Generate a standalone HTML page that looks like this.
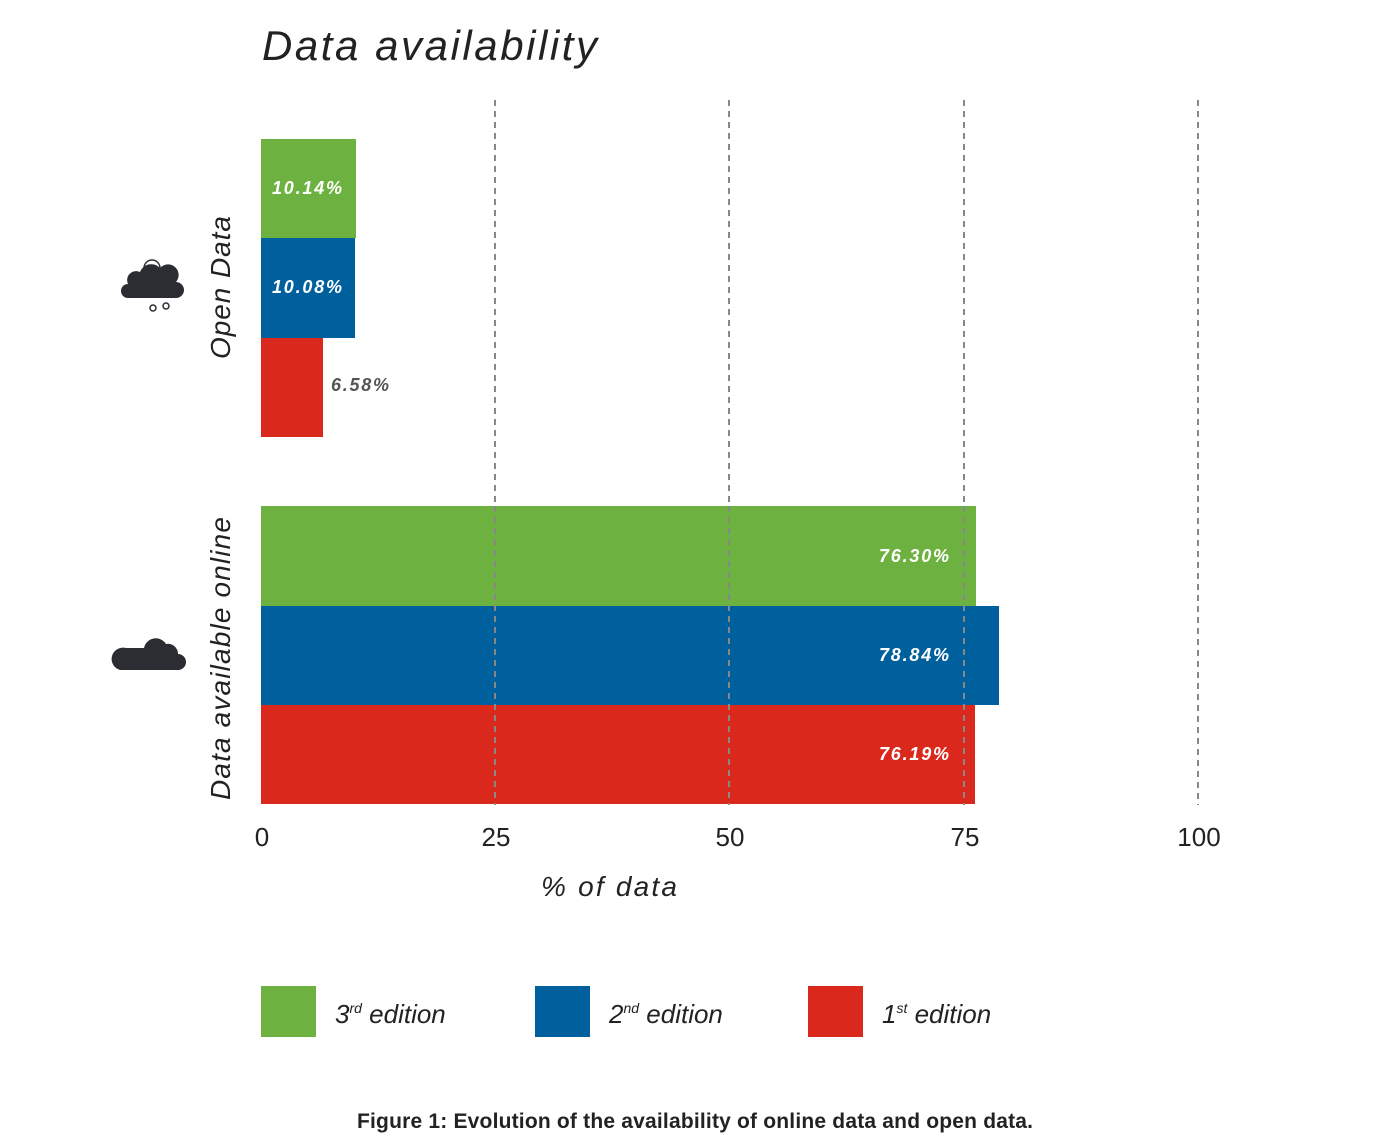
<!DOCTYPE html>
<html><head><meta charset="utf-8"><style>
body{margin:0;background:#fff;}
svg{display:block;}
text{font-family:"Liberation Sans",sans-serif;}
</style></head><body>
<svg width="1400" height="1146" viewBox="0 0 1400 1146" xmlns="http://www.w3.org/2000/svg">
<text x="262" y="60" font-size="42" font-style="italic" fill="#222" textLength="335">Data availability</text>
<g stroke="#888" stroke-width="2" stroke-dasharray="6,5">
<line x1="495" y1="100" x2="495" y2="805"/>
<line x1="729" y1="100" x2="729" y2="805"/>
<line x1="964" y1="100" x2="964" y2="805"/>
<line x1="1198" y1="100" x2="1198" y2="805"/>
</g>
<rect x="261" y="139" width="95" height="99" fill="#6db140"/>
<rect x="261" y="238" width="94" height="100" fill="#00609e"/>
<rect x="261" y="338" width="62" height="99" fill="#da291c"/>
<rect x="261" y="506" width="715" height="100" fill="#6db140"/>
<rect x="261" y="606" width="738" height="99" fill="#00609e"/>
<rect x="261" y="705" width="714" height="99" fill="#da291c"/>
<g stroke="#888" stroke-width="2" stroke-dasharray="6,5">
<line x1="495" y1="506" x2="495" y2="805"/>
<line x1="729" y1="506" x2="729" y2="805"/>
<line x1="964" y1="506" x2="964" y2="805"/>
</g>
<g font-size="18" font-weight="bold" font-style="italic" fill="#fff">
<text x="272" y="194" textLength="70">10.14%</text>
<text x="272" y="293" textLength="70">10.08%</text>
<text x="331" y="391" fill="#555" textLength="58">6.58%</text>
<text x="879" y="562" textLength="70">76.30%</text>
<text x="879" y="661" textLength="70">78.84%</text>
<text x="879" y="760" textLength="70">76.19%</text>
</g>
<g font-size="28" font-style="italic" fill="#222">
<text transform="translate(230,359) rotate(-90)" textLength="143">Open Data</text>
<text transform="translate(230,800) rotate(-90)" textLength="283">Data available online</text>
</g>
<g fill="#2b2d33">
<path d="M128 298 h48 a8 8 0 0 0 0 -16 a10 10 0 0 0 -16 -14 a12 12 0 0 0 -20 4 a9 9 0 0 0 -12 12 a7 7 0 0 0 0 14z"/>
<path d="M144 268 a8 8 0 0 1 16 0" fill="none" stroke="#2b2d33" stroke-width="1.5"/>
<circle cx="153" cy="308" r="3" fill="none" stroke="#2b2d33" stroke-width="1.5"/>
<circle cx="166" cy="306" r="3" fill="none" stroke="#2b2d33" stroke-width="1.5"/>
<path d="M120 670 h58 a8 8 0 0 0 0 -16 a10 10 0 0 0 -12 -10 a12 12 0 0 0 -22 4 h-18 a11 11 0 0 0 -6 22z"/>
</g>
<g font-size="26" fill="#222" text-anchor="middle">
<text x="262" y="846">0</text>
<text x="496" y="846">25</text>
<text x="730" y="846">50</text>
<text x="965" y="846">75</text>
<text x="1199" y="846">100</text>
</g>
<text x="541" y="896" font-size="28" font-style="italic" fill="#222" textLength="136">% of data</text>
<rect x="261" y="986" width="55" height="51" fill="#6db140"/>
<rect x="535" y="986" width="55" height="51" fill="#00609e"/>
<rect x="808" y="986" width="55" height="51" fill="#da291c"/>
<g font-size="26" font-style="italic" fill="#222">
<text x="335" y="1023">3<tspan font-size="14" dy="-10">rd</tspan><tspan dy="10"> edition</tspan></text>
<text x="609" y="1023">2<tspan font-size="14" dy="-10">nd</tspan><tspan dy="10"> edition</tspan></text>
<text x="882" y="1023">1<tspan font-size="14" dy="-10">st</tspan><tspan dy="10"> edition</tspan></text>
</g>
<text x="695" y="1128" font-size="21" font-weight="bold" fill="#222" text-anchor="middle" textLength="676">Figure 1: Evolution of the availability of online data and open data.</text>
</svg>
</body></html>
